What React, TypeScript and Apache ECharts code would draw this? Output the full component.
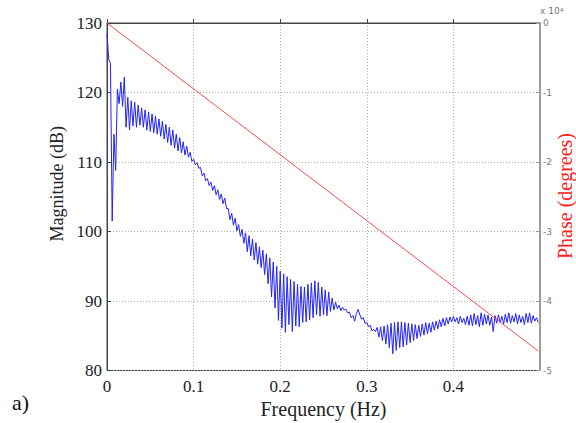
import React, { useEffect, useRef } from "react";
import * as echarts from "echarts";

// Frequency sampling step of the magnitude trace (Hz)
const FREQ_STEP = 0.002;

// Magnitude (dB), one value per FREQ_STEP starting at 0 Hz
const MAGNITUDE_DB = [
  128.5, 124.8, 124.2, 101.5, 114.0, 108.8, 120.5, 118.4, 121.5, 118.0,
  122.2, 115.0, 119.3, 114.6, 118.8, 115.2, 118.6, 115.0, 118.2, 115.3,
  117.8, 115.0, 117.5, 114.6, 117.2, 114.4, 116.9, 114.2, 116.6, 114.0,
  116.2, 113.7, 115.9, 113.3, 115.4, 112.8, 115.0, 112.4, 114.6, 112.0,
  114.0, 111.6, 113.5, 111.3, 112.9, 111.0, 112.3, 110.7, 111.4, 110.1,
  110.4, 109.6, 109.9, 109.1, 109.2, 108.0, 108.4, 107.3, 107.6, 106.6,
  107.1, 105.9, 106.6, 105.3, 106.0, 104.6, 105.4, 104.0, 104.8, 103.3,
  103.3, 101.7, 102.6, 100.9, 101.9, 100.1, 101.0, 99.3, 100.3, 98.3,
  99.8, 97.1, 99.4, 96.5, 98.9, 95.9, 98.4, 95.3, 97.8, 94.8,
  97.3, 93.8, 96.8, 92.5, 96.2, 90.6, 95.6, 89.0, 95.0, 87.2,
  94.3, 86.1, 93.9, 85.5, 93.5, 86.6, 93.1, 85.6, 92.8, 86.4,
  92.4, 86.3, 92.1, 86.9, 92.0, 87.0, 92.4, 87.3, 92.6, 87.6,
  92.9, 88.0, 92.7, 87.8, 92.0, 88.0, 91.6, 87.9, 91.3, 88.5,
  90.4, 88.7, 89.8, 88.9, 89.4, 88.6, 89.1, 88.7, 88.8, 88.3,
  88.4, 87.6, 87.9, 87.1, 88.2, 88.8, 88.0, 87.4, 87.6, 86.8,
  86.9, 86.3, 86.5, 85.7, 85.9, 85.6, 86.2, 84.8, 86.3, 84.3,
  86.4, 83.8, 86.6, 83.3, 86.8, 82.4, 86.9, 82.9, 87.0, 83.3,
  87.0, 83.4, 86.9, 83.7, 86.8, 84.0, 86.7, 84.3, 86.6, 84.6,
  86.5, 84.9, 86.7, 85.1, 86.9, 85.3, 86.8, 85.5, 87.0, 85.8,
  87.1, 86.0, 87.3, 86.3, 87.5, 86.4, 87.6, 86.7, 87.7, 87.0,
  87.8, 87.0, 87.6, 86.7, 87.8, 86.9, 87.5, 86.6, 87.8, 86.5,
  88.0, 86.4, 88.2, 86.6, 87.9, 86.3, 88.3, 86.5, 88.1, 86.7,
  88.0, 86.5, 87.7, 85.6, 87.9, 86.8, 88.0, 86.9, 87.8, 86.7,
  88.1, 86.9, 88.3, 86.8, 87.9, 87.0, 88.2, 86.7, 88.0, 86.9,
  87.8, 86.6, 88.2, 86.9, 88.3, 86.8, 87.9, 87.1, 87.6, 86.9,
];

// Phase line (degrees)
const PHASE_FREQ = [0, 0.498];
const PHASE_DEG = [0, -47200];

// Axis settings
const X_TICKS = [0, 0.1, 0.2, 0.3, 0.4];
const MAG_RANGE = [80, 130];
const PHASE_RANGE = [-50000, 0];

const SERIF = "Liberation Serif";
const SANS = "DejaVu Sans";

export default function App() {
  const ref = useRef<HTMLDivElement>(null);

  useEffect(() => {
    document.body.style.margin = "0";
    if (!ref.current) return;
    const chart = echarts.init(ref.current, undefined, { renderer: "svg" });

    const magData = MAGNITUDE_DB.map((v, i) => [+(i * FREQ_STEP).toFixed(3), v]);
    const phaseData = PHASE_FREQ.map((f, i) => [f, PHASE_DEG[i]]);

    const option: any = {
      animation: false,
      backgroundColor: "#ffffff",
      grid: {
        left: 107,
        right: 36,
        top: 23,
        bottom: 52.5,
        outerBoundsMode: "none",
        containLabel: false,
        show: true,
        borderColor: "#444",
        borderWidth: 1,
        backgroundColor: "transparent",
      },
      xAxis: {
        type: "value",
        min: 0,
        max: 0.5,
        interval: 0.1,
        name: "Frequency (Hz)",
        nameLocation: "middle",
        nameGap: 28,
        nameTextStyle: { fontFamily: SERIF, fontSize: 20, color: "#222" },
        axisLine: { show: true, lineStyle: { color: "#444", width: 1 } },
        axisTick: { show: true, inside: true, length: 4, lineStyle: { color: "#444" } },
        axisLabel: {
          fontFamily: SERIF,
          fontSize: 17,
          color: "#222",
          margin: 7,
          showMaxLabel: false,
          formatter: (v: number) => (X_TICKS.includes(+v.toFixed(1)) ? (v === 0 ? "0" : v.toFixed(1)) : ""),
        },
        splitLine: { show: true, lineStyle: { color: "#b0b0b0", type: [1, 2], width: 1 } },
      },
      yAxis: [
        {
          type: "value",
          min: MAG_RANGE[0],
          max: MAG_RANGE[1],
          interval: 10,
          position: "left",
          name: "Magnitude (dB)",
          nameLocation: "middle",
          nameGap: 36,
          nameRotate: 90,
          nameTextStyle: {
            fontFamily: SERIF,
            fontSize: 18,
            color: "#222",
            padding: [0, 0, 0, 26],
          },
          axisLine: { show: true, lineStyle: { color: "#444", width: 1 } },
          axisTick: { show: true, inside: true, length: 4, lineStyle: { color: "#444" } },
          axisLabel: { fontFamily: SERIF, fontSize: 17, color: "#222", margin: 5 },
          splitLine: { show: true, lineStyle: { color: "#b0b0b0", type: [1, 2], width: 1 } },
        },
        {
          type: "value",
          min: PHASE_RANGE[0],
          max: PHASE_RANGE[1],
          interval: 10000,
          position: "right",
          axisLine: { show: true, lineStyle: { color: "#999", width: 1 } },
          axisTick: { show: true, inside: true, length: 4, lineStyle: { color: "#999" } },
          axisLabel: {
            fontFamily: SANS,
            fontSize: 9,
            color: "#777",
            margin: 3,
            formatter: (v: number) => String(Math.round(v / 10000)),
          },
          splitLine: { show: false },
        },
      ],
      series: [
        {
          name: "Magnitude",
          type: "line",
          yAxisIndex: 0,
          data: magData,
          showSymbol: false,
          symbol: "none",
          lineStyle: { color: "#2222ff", width: 1 },
          z: 2,
        },
        {
          name: "Phase",
          type: "line",
          yAxisIndex: 1,
          data: phaseData,
          showSymbol: false,
          symbol: "none",
          lineStyle: { color: "#ff4a4a", width: 1 },
          z: 3,
        },
      ],
      graphic: [
        {
          type: "text",
          left: 540,
          top: 6,
          style: {
            text: "{a|x 10}{b|4}",
            rich: {
              a: { fontFamily: SANS, fontSize: 9, fill: "#777" },
              b: { fontFamily: SANS, fontSize: 6, fill: "#777", verticalAlign: "top", padding: [0, 0, 4, 0] },
            },
          },
        },
        {
          type: "text",
          x: 565,
          y: 196,
          rotation: Math.PI / 2,
          style: {
            text: "Phase (degrees)",
            fontFamily: SERIF,
            fontSize: 20,
            fill: "#ff2020",
            align: "center",
            verticalAlign: "middle",
          },
        },
        {
          type: "text",
          left: 12,
          top: 391,
          style: { text: "a)", fontFamily: SERIF, fontSize: 22, fill: "#111" },
        },
      ],
    };

    chart.setOption(option);
    return () => chart.dispose();
  }, []);

  return (
    <div
      ref={ref}
      style={{ position: "absolute", left: 0, top: 0, width: 576, height: 423, background: "#fff" }}
    />
  );
}
